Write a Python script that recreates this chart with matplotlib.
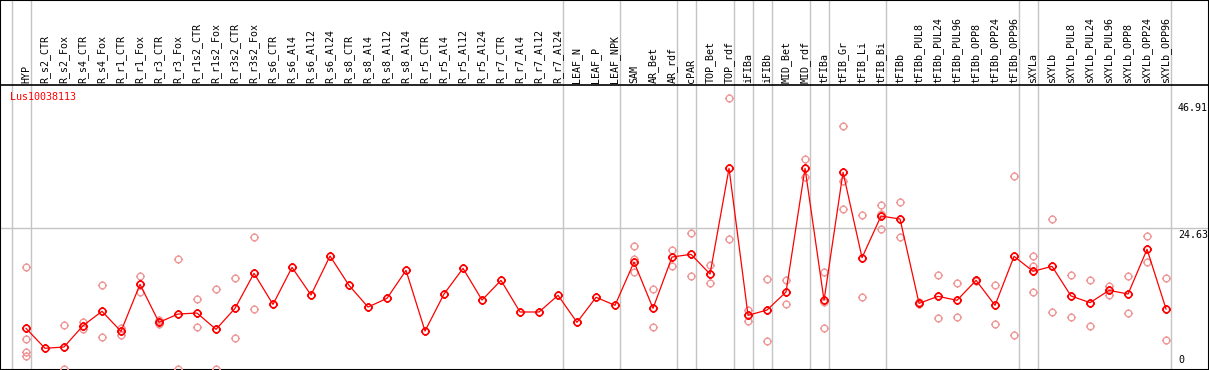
import numpy as np
import matplotlib
matplotlib.use("Agg")
import matplotlib.pyplot as plt
from matplotlib.path import Path

gene = "Lus10038113"

labels = ["HYP", "R_s2_CTR", "R_s2_Fox", "R_s4_CTR", "R_s4_Fox", "R_r1_CTR", "R_r1_Fox",
          "R_r3_CTR", "R_r3_Fox", "R_r1s2_CTR", "R_r1s2_Fox", "R_r3s2_CTR", "R_r3s2_Fox",
          "R_s6_CTR", "R_s6_Al4", "R_s6_Al12", "R_s6_Al24", "R_s8_CTR", "R_s8_Al4",
          "R_s8_Al12", "R_s8_Al24", "R_r5_CTR", "R_r5_Al4", "R_r5_Al12", "R_r5_Al24",
          "R_r7_CTR", "R_r7_Al4", "R_r7_Al12", "R_r7_Al24", "LEAF_N", "LEAF_P", "LEAF_NPK",
          "SAM", "AR_Bet", "AR_rdf", "cPAR", "TOP_Bet", "TOP_rdf", "iFIBa", "iFIBb",
          "MID_Bet", "MID_rdf", "tFIBa", "tFIB_Gr", "tFIB_Li", "tFIB_Bi", "tFIBb",
          "tFIBb_PUL8", "tFIBb_PUL24", "tFIBb_PUL96", "tFIBb_OPP8", "tFIBb_OPP24",
          "tFIBb_OPP96", "sXYLa", "sXYLb", "sXYLb_PUL8", "sXYLb_PUL24", "sXYLb_PUL96",
          "sXYLb_OPP8", "sXYLb_OPP24", "sXYLb_OPP96"]

means = [7.06, 3.55, 3.78, 7.52, 10.05, 6.53, 14.79, 8.11, 9.57, 9.75, 6.88, 10.57, 16.72,
         11.27, 17.77, 12.91, 19.76, 14.61, 10.80, 12.33, 17.25, 6.59, 13.09, 17.60, 12.03,
         15.49, 9.93, 9.93, 12.86, 8.11, 12.51, 11.10, 18.71, 10.57, 19.59, 20.06, 16.60,
         35.17, 9.34, 10.28, 13.44, 35.17, 11.98, 34.47, 19.47, 26.79, 26.26, 11.45, 12.68,
         11.98, 15.49, 11.10, 19.71, 17.08, 17.95, 12.74, 11.57, 13.73, 13.09, 20.94, 10.45]

reps = [[17.83, 5.12, 2.84, 2.25], [], [7.59, 0.0], [8.11, 6.99], [14.61, 5.48],
        [7.11, 5.88], [16.19, 13.5], [8.52, 7.76], [19.18, 0.0], [12.15, 7.23],
        [13.91, 0.0], [15.84, 5.30], [23.05, 10.45],
        [], [], [], [], [], [], [], [], [], [], [], [], [], [], [], [], [], [], [],
        [21.47, 19.29, 16.90], [13.91, 7.23], [20.82, 18.06], [23.75, 16.19],
        [18.24, 14.97], [47.47, 22.7], [10.28, 8.40], [15.67, 4.78], [15.55, 11.28],
        [36.75, 33.59], [16.90, 11.68, 7.11], [42.55, 33.0, 28.02], [26.91, 12.56],
        [28.67, 27.2, 24.46], [29.2, 23.05], [11.7, 11.3], [16.37, 8.82], [14.97, 9.0],
        [15.6, 15.4], [14.61, 7.76], [33.77, 5.83], [19.76, 18.06, 13.39], [26.21, 9.87],
        [16.37, 9.0], [15.49, 7.41], [14.44, 12.86], [16.19, 9.70], [23.23, 18.66],
        [15.85, 4.95]]

# group separators sit just after these columns
separators = [-1, 0, 28, 31, 34, 35, 37, 38, 39, 41, 42, 45, 52, 53, 60]
ytick_vals = [0, 24.63, 46.91]

# circle with four little ticks, like the original marker
t = np.linspace(0, 2 * np.pi, 33)
verts = [(np.cos(a), np.sin(a)) for a in t]
codes = [Path.MOVETO] + [Path.LINETO] * 32
for dx, dy in [(0, 1), (0, -1), (1, 0), (-1, 0)]:
    verts += [(dx, dy), (dx * 1.35, dy * 1.35)]
    codes += [Path.MOVETO, Path.LINETO]
tick_circle = Path(verts, codes)

fig = plt.figure(figsize=(12.09, 3.70), dpi=100)
ax = fig.add_axes([0, 0, 1, 1])
ax.set_xlim(-1.368, 62.26)
ax.set_ylim(-0.26, 64.74)
ax.set_xticks([])
ax.set_yticks([])
for s in ax.spines.values():
    s.set_linewidth(1.5)
    s.set_color("black")

x = np.arange(len(labels))

for k in separators:
    ax.axvline(k + 0.25, color="#c4c4c4", lw=1, zorder=1)
ax.axhline(24.63, color="#c4c4c4", lw=1, zorder=1)
ax.axhline(49.81, color="black", lw=1.2, zorder=2)

for i, r in enumerate(reps):
    if r:
        ax.plot([i] * len(r), r, linestyle="none", marker=tick_circle, markersize=6.5,
                markerfacecolor="none", markeredgecolor="#f09898", markeredgewidth=1.0,
                zorder=3)

ax.plot(x, means, color="red", lw=0.9, marker=tick_circle, markersize=6.5,
        markerfacecolor="none", markeredgecolor="red", markeredgewidth=1.2, zorder=4)

mono = "DejaVu Sans Mono"
for i, lab in enumerate(labels):
    ax.text(i, 50.16, lab, rotation=90, ha="center", va="bottom", fontsize=7.2,
            family=mono, color="black")

ax.text(-0.868, 47.75, gene, ha="left", va="center", fontsize=7.2, family=mono, color="red")

for v in ytick_vals:
    if v == 0:
        ax.text(60.63, 0.6, "0", ha="left", va="bottom", fontsize=7.2, family=mono)
    else:
        ax.text(60.63, v - 0.3, f"{v:.2f}", ha="left", va="top", fontsize=7.2, family=mono)

fig.savefig("out.png", dpi=100)
